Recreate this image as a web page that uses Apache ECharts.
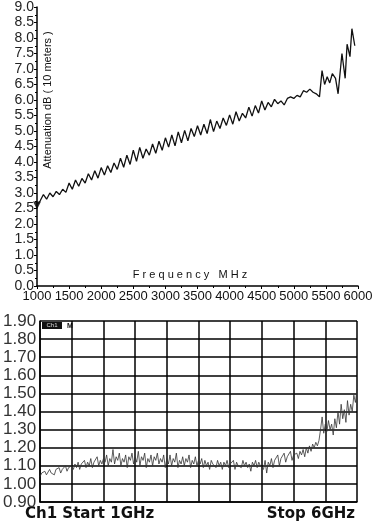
<!DOCTYPE html>
<html><head><meta charset="utf-8">
<script src="https://cdn.jsdelivr.net/npm/echarts@6/dist/echarts.min.js"></script>
<style>html,body{margin:0;padding:0;background:#fff}#c{width:379px;height:532px}</style>
</head><body><div id="c"></div>
<script>
// ---- Top chart: attenuation vs frequency ----
const topFreq = [1000,1050,1100,1150,1200,1250,1300,1350,1400,1450,1500,1550,1600,1650,1700,1750,1800,1850,1900,1950,
2000,2050,2100,2150,2200,2250,2300,2350,2400,2450,2500,2550,2600,2650,2700,2750,2800,2850,2900,2950,
3000,3050,3100,3150,3200,3250,3300,3350,3400,3450,3500,3550,3600,3650,3700,3750,3800,3850,3900,3950,
4000,4050,4100,4150,4200,4250,4300,4350,4400,4450,4500,4550,4600,4650,4700,4750,4800,4850,4900,4950,
5000,5050,5100,5150,5200,5250,5300,5350,5400,5440,5480,5520,5560,5600,5650,5690,5750,5800,5830,5875,5905,5950];
const topAtten = [2.60,2.75,2.95,2.80,3.00,2.88,3.05,2.95,3.12,3.02,3.32,3.12,3.42,3.22,3.47,3.32,3.62,3.42,3.72,3.48,
3.82,3.58,3.88,3.66,3.97,3.76,4.12,3.83,4.22,3.92,4.38,4.02,4.47,4.12,4.42,4.22,4.58,4.28,4.67,4.38,
4.78,4.48,4.87,4.52,4.97,4.62,5.02,4.68,5.08,4.82,5.17,4.87,5.22,4.92,5.37,4.98,5.32,5.08,5.42,5.18,
5.52,5.22,5.62,5.32,5.57,5.42,5.77,5.48,5.82,5.58,5.97,5.68,5.92,5.78,6.02,5.88,5.97,5.84,6.05,6.10,
6.05,6.15,6.10,6.30,6.25,6.35,6.25,6.20,6.10,6.95,6.50,6.75,6.55,6.85,6.70,6.20,7.50,6.70,7.80,7.40,8.30,7.75];
const topMarker = [[1000, 2.60]];
const topYTicks = {min: 0, max: 9, interval: 0.5};
const topXTicks = {min: 1000, max: 6000, interval: 500};

// ---- Bottom chart: VNA trace ----
const botFreq = [1000,1025,1050,1075,1100,1125,1150,1175,1200,1225,1250,1275,1300,1325,1350,1375,1400,1425,1450,1475,1500,
1525,1550,1575,1600,1625,1650,1675,1700,1725,1750,1775,1800,1825,1850,1875,1900,1925,1950,1975,2000,
2025,2050,2075,2100,2125,2150,2175,2200,2225,2250,2275,2300,2325,2350,2375,2400,2425,2450,2475,2500,
2525,2550,2575,2600,2625,2650,2675,2700,2725,2750,2775,2800,2825,2850,2875,2900,2925,2950,2975,3000,
3025,3050,3075,3100,3125,3150,3175,3200,3225,3250,3275,3300,3325,3350,3375,3400,3425,3450,3475,3500,
3525,3550,3575,3600,3625,3650,3675,3700,3725,3750,3775,3800,3825,3850,3875,3900,3925,3950,3975,4000,
4025,4050,4075,4100,4125,4150,4175,4200,4225,4250,4275,4300,4325,4350,4375,4400,4425,4450,4475,4500,
4525,4550,4575,4600,4625,4650,4675,4700,4725,4750,4775,4800,4825,4850,4875,4900,4925,4950,4975,5000,
5025,5050,5075,5100,5125,5150,5175,5200,5225,5250,5275,5300,5325,5350,5375,5400,5425,5450,5475,5500,
5525,5550,5575,5600,5625,5650,5675,5700,5725,5750,5775,5800,5825,5850,5875,5900,5925,5950,5975,6000];
const botValue = [1.04,1.06,1.05,1.07,1.05,1.06,1.08,1.06,1.07,1.05,1.08,1.07,1.09,1.06,1.08,1.07,1.10,1.07,1.09,1.08,1.10,
1.08,1.11,1.09,1.12,1.08,1.11,1.10,1.13,1.09,1.12,1.10,1.14,1.09,1.12,1.11,1.15,1.10,1.13,1.11,1.14,
1.12,1.16,1.10,1.14,1.12,1.19,1.11,1.15,1.13,1.17,1.10,1.14,1.12,1.16,1.09,1.15,1.13,1.17,1.11,1.15,
1.12,1.18,1.10,1.15,1.13,1.17,1.09,1.14,1.12,1.16,1.10,1.15,1.13,1.17,1.11,1.14,1.12,1.16,1.09,1.14,
1.11,1.16,1.10,1.14,1.12,1.17,1.09,1.13,1.11,1.15,1.10,1.14,1.12,1.16,1.09,1.13,1.11,1.15,1.10,1.13,
1.11,1.14,1.09,1.13,1.10,1.12,1.08,1.13,1.11,1.12,1.09,1.13,1.10,1.12,1.08,1.12,1.10,1.13,1.09,1.11,
1.10,1.13,1.08,1.12,1.10,1.11,1.09,1.13,1.10,1.12,1.09,1.11,1.07,1.12,1.10,1.13,1.09,1.12,1.10,1.11,
1.08,1.13,1.06,1.12,1.10,1.14,1.09,1.13,1.12,1.16,1.10,1.14,1.13,1.17,1.12,1.15,1.14,1.18,1.13,1.16,
1.15,1.17,1.14,1.18,1.16,1.19,1.15,1.20,1.17,1.21,1.18,1.22,1.20,1.23,1.21,1.24,1.30,1.37,1.28,1.33,
1.29,1.35,1.30,1.33,1.27,1.36,1.31,1.40,1.33,1.44,1.36,1.41,1.34,1.46,1.38,1.44,1.40,1.49,1.45,1.52];
const botYTicks = {min: 0.9, max: 1.9, interval: 0.1};
const botXTicks = {min: 1000, max: 6000, interval: 500};
const botYLabels = ['0.90','1.00','1.10','1.20','1.30','1.40','1.50','1.60','1.70','1.80','1.90'];

const pair = (xs, ys) => xs.map((x, i) => [x, ys[i]]);

const chart = echarts.init(document.getElementById('c'), null, {renderer: 'canvas'});
chart.setOption({
  animation: false,
  backgroundColor: '#fff',
  grid: [
    {left: 37, right: 21, top: 6, height: 280},
    {left: 40, right: 22, top: 321, height: 181}
  ],
  xAxis: [
    {gridIndex: 0, type: 'value', min: topXTicks.min, max: topXTicks.max, interval: topXTicks.interval,
     axisLine: {onZero: false, lineStyle: {color: '#000', width: 1.5}},
     axisTick: {inside: false, length: 3, lineStyle: {color: '#000'}},
     minorTick: {show: true, splitNumber: 2, length: 2, lineStyle: {color: '#000'}},
     axisLabel: {color: '#111', fontSize: 13, fontFamily: 'Liberation Sans, Arial', margin: 4,
       formatter: v => String(v)},
     splitLine: {show: false}},
    {gridIndex: 1, type: 'value', min: botXTicks.min, max: botXTicks.max, interval: botXTicks.interval,
     axisLine: {onZero: false, lineStyle: {color: '#000', width: 1.5}},
     axisTick: {show: false}, axisLabel: {show: false},
     splitLine: {show: true, lineStyle: {color: '#000', width: 1.5}}}
  ],
  yAxis: [
    {gridIndex: 0, type: 'value', min: topYTicks.min, max: topYTicks.max, interval: topYTicks.interval,
     axisLine: {show: true, onZero: false, lineStyle: {color: '#000', width: 1.5}},
     axisTick: {show: true, inside: false, length: 3, lineStyle: {color: '#000'}},
     minorTick: {show: true, splitNumber: 2, length: 2, lineStyle: {color: '#000'}},
     axisLabel: {color: '#222', fontSize: 14, fontFamily: 'Liberation Sans, Arial', margin: 3,
       formatter: v => v.toFixed(1)},
     splitLine: {show: false}},
    {gridIndex: 1, type: 'value', min: botYTicks.min, max: botYTicks.max, interval: botYTicks.interval,
     axisLine: {show: true, onZero: false, lineStyle: {color: '#000', width: 1.5}},
     axisTick: {show: false},
     axisLabel: {color: '#333', fontSize: 17, fontFamily: 'Liberation Sans, Arial', margin: 4,
       formatter: v => botYLabels[Math.round((v - botYTicks.min) / botYTicks.interval)]},
     splitLine: {show: true, lineStyle: {color: '#000', width: 1.5}}}
  ],
  series: [
    {type: 'line', xAxisIndex: 0, yAxisIndex: 0, data: pair(topFreq, topAtten),
     showSymbol: false, lineStyle: {color: '#111', width: 1.3}},
    {type: 'scatter', xAxisIndex: 0, yAxisIndex: 0, data: topMarker,
     symbol: 'triangle', symbolRotate: 180, symbolSize: 8, itemStyle: {color: '#000'}},
    {type: 'line', xAxisIndex: 1, yAxisIndex: 1, data: pair(botFreq, botValue),
     showSymbol: false, lineStyle: {color: '#333', width: 0.8}}
  ],
  graphic: [
    {type: 'text', x: 48, y: 100, rotation: Math.PI / 2,
     style: {text: 'Attenuation dB ( 10 meters )', fill: '#111', font: '11px "Liberation Sans", Arial',
       align: 'center', verticalAlign: 'middle'}},
    {type: 'text', x: 190, y: 275,
     style: {text: 'F r e q u e n c y   M H z', fill: '#111', font: '11px "Liberation Sans", Arial',
       align: 'center', verticalAlign: 'middle'}},
    {type: 'rect', shape: {x: 42, y: 322, width: 20, height: 7}, style: {fill: '#111'}},
    {type: 'text', x: 52, y: 325.5,
     style: {text: 'Ch1', fill: '#ddd', font: '6px "Liberation Sans", Arial', align: 'center', verticalAlign: 'middle'}},
    {type: 'text', x: 70, y: 326,
     style: {text: 'M', fill: '#111', font: 'bold 7px "Liberation Sans", Arial', align: 'center', verticalAlign: 'middle'}},
    {type: 'text', x: 25, y: 514,
     style: {text: 'Ch1 Start 1GHz', fill: '#111', font: 'bold 15px "DejaVu Sans", Arial',
       align: 'left', verticalAlign: 'middle'}},
    {type: 'text', x: 355, y: 514,
     style: {text: 'Stop 6GHz', fill: '#111', font: 'bold 15px "DejaVu Sans", Arial',
       align: 'right', verticalAlign: 'middle'}}
  ]
});
</script></body></html>
